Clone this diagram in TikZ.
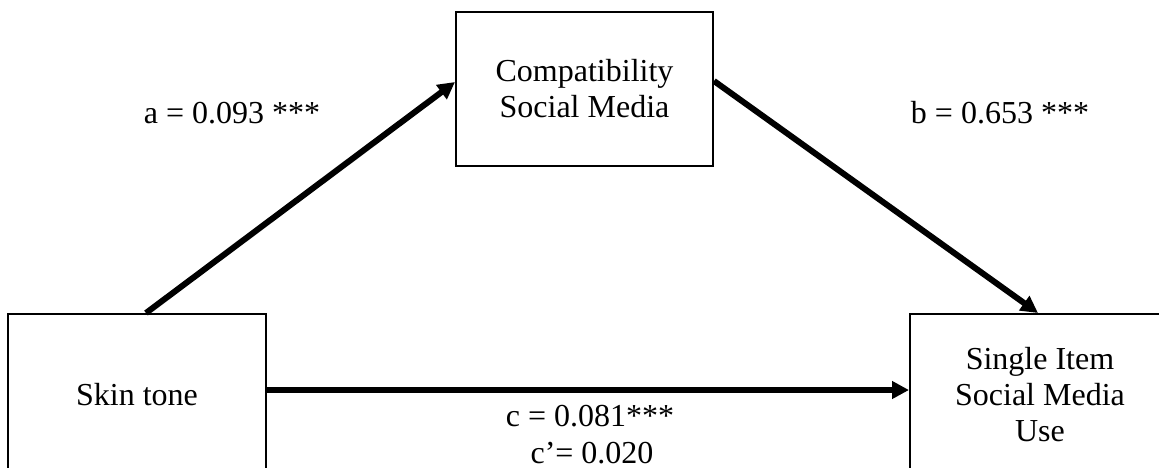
\documentclass[tikz,border=0pt]{standalone}
\usepackage{fontspec}
\setmainfont{Liberation Serif}
\usetikzlibrary{arrows.meta}
\begin{document}
\begin{tikzpicture}[x=1pt,y=-1pt,
  varbox/.style={draw, line width=2pt, align=center, inner sep=0pt,
    font=\fontsize{32}{36}\selectfont},
  path/.style={line width=6pt, -{Triangle[length=17pt,width=17pt]}},
  coef/.style={font=\fontsize{32}{36}\selectfont, inner sep=0pt, align=center}]
  \useasboundingbox (0,0) rectangle (1159,467);
  \clip (0,0) rectangle (1159,467);
  % variables
  \node[varbox, minimum width=258pt, minimum height=162pt] (skin) at (137,395) {Skin tone};
  \node[varbox, minimum width=257pt, minimum height=154pt] (comp) at (584.5,89) {Compatibility\\Social Media};
  \node[varbox, minimum width=260pt, minimum height=162pt] (use) at (1040,395) {Single Item\\Social Media\\Use};
  % connector end points on the box edges
  \coordinate (aStart) at ([xshift=9pt]skin.north);
  \coordinate (aEnd) at ([yshift=7pt]comp.west);
  \coordinate (bStart) at ([yshift=8pt]comp.east);
  \coordinate (bEnd) at ([xshift=-2pt]use.north);
  % paths
  \draw[path] (aStart) -- (aEnd);
  \draw[path] (bStart) -- (bEnd);
  \draw[path] (skin.east |- 0,390) -- (use.west |- 0,390);
  % coefficients
  \node[coef, anchor=base] (a) at (232,123) {a = 0.093 ***};
  \node[coef, anchor=base] (b) at (1000,123) {b = 0.653 ***};
  \node[coef, anchor=base] (c) at (590,426) {c = 0.081***};
  \node[coef, anchor=base] (cp) at (592,463) {c’= 0.020};
\end{tikzpicture}
\end{document}
